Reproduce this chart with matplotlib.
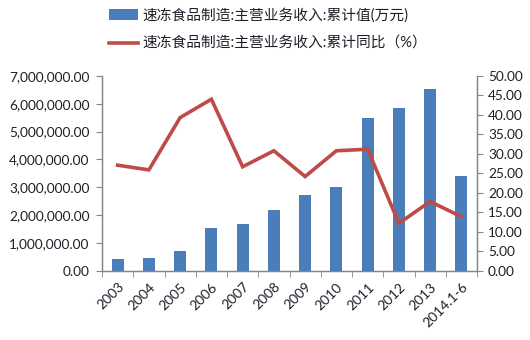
import matplotlib
matplotlib.use("Agg")
from matplotlib import pyplot as plt
from matplotlib.ticker import FuncFormatter
import numpy as np

plt.rcParams['font.family'] = ['Lato', 'Noto Sans CJK SC', 'DejaVu Sans']

years = ['2003', '2004', '2005', '2006', '2007', '2008', '2009', '2010',
         '2011', '2012', '2013', '2014.1-6']
revenue = [430000, 470000, 730000, 1530000, 1680000, 2200000, 2740000,
           3010000, 5480000, 5840000, 6510000, 3410000]
growth = [27.1, 25.9, 39.3, 44.0, 26.7, 30.8, 24.2, 30.8, 31.2, 12.2, 17.8, 13.9]

bar_label = '速冻食品制造:主营业务收入:累计值(万元)'
line_label = '速冻食品制造:主营业务收入:累计同比（%）'

bar_color = '#4a7ebb'
line_color = '#be4b48'
text_color = '#1f1f2a'
axis_color = '#868686'

fig = plt.figure(figsize=(5.3, 3.4), dpi=100)
ax1 = fig.add_axes([0.1925, 0.203, 0.7075, 0.574])
ax2 = ax1.twinx()

x = np.arange(len(years))
bars = ax1.bar(x, revenue, width=0.39, color=bar_color, zorder=2)
line, = ax2.plot(x, growth, color=line_color, lw=2.6, zorder=3,
                 solid_joinstyle='miter')

ax1.set_xlim(-0.5, len(years) - 0.5)
ax1.set_ylim(0, 7000000)
ax2.set_ylim(0, 50)
ax1.set_yticks(np.arange(0, 7000001, 1000000))
ax2.set_yticks(np.arange(0, 50.1, 5))
ax1.yaxis.set_major_formatter(FuncFormatter(lambda v, p: '{:,.2f}'.format(v)))
ax2.yaxis.set_major_formatter(FuncFormatter(lambda v, p: '{:.2f}'.format(v)))

# category labels centred, tick marks on the boundaries
ax1.set_xticks(x)
ax1.set_xticklabels(years, rotation=45, ha='right', rotation_mode='anchor')
ax1.set_xticks(np.arange(-0.5, len(years)), minor=True)
ax1.tick_params(axis='x', which='major', length=0, pad=7,
                labelsize=10, labelcolor=text_color)
ax1.tick_params(axis='x', which='minor', length=4, color=axis_color)
ax1.tick_params(axis='y', length=4, color=axis_color, labelsize=9.8,
                labelcolor=text_color, pad=5)
ax2.tick_params(axis='y', length=4, color=axis_color, labelsize=9.8,
                labelcolor=text_color, pad=4)

for ax in (ax1, ax2):
    ax.spines['top'].set_visible(False)
    for s in ('left', 'right', 'bottom'):
        ax.spines[s].set_color(axis_color)
        ax.spines[s].set_linewidth(0.9)

fig.legend([bars, line], [bar_label, line_label], loc='upper left',
           bbox_to_anchor=(0.18, 1.015), frameon=False, fontsize=10.6,
           handlelength=2.0, handleheight=0.75, handletextpad=0.3,
           labelspacing=0.95, labelcolor=text_color)

fig.savefig('out.png', dpi=100)
